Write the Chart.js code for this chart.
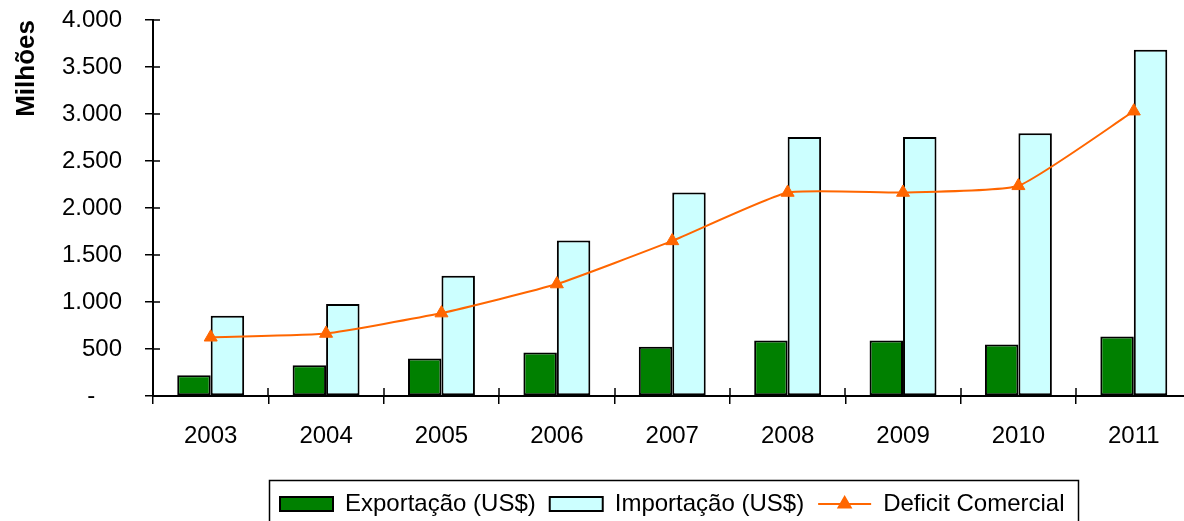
<!DOCTYPE html>
<html><head><meta charset="utf-8">
<script src="https://cdn.jsdelivr.net/npm/chart.js@4/dist/chart.umd.min.js"></script>
<style>
html,body{margin:0;padding:0;background:#fff;overflow:hidden}
#wrap{width:1184px;height:521px;overflow:hidden;position:relative;background:#fff}
#c{display:block}
</style></head><body>
<div id="wrap"><canvas id="c" width="1200" height="540"></canvas></div>
<script>
const categories = ['2003', '2004', '2005', '2006', '2007', '2008', '2009', '2010', '2011'];
const exportacao = [221, 327, 398, 462, 523, 590, 590, 547, 633];
const importacao = [853, 978, 1280, 1653, 2165, 2755, 2755, 2795, 3683];
const deficit = [625, 665, 882, 1191, 1650, 2165, 2165, 2236, 3030];
const yTickValues = [0, 500, 1000, 1500, 2000, 2500, 3000, 3500, 4000];
const seriesNames = ['Exportação (US$)', 'Importação (US$)', 'Deficit Comercial'];
const axisTitle = 'Milhões';

const FONT = "'Liberation Sans', Arial, Helvetica, sans-serif";
const LINE_COLOR = '#FF6600';

function fmt(v) {
  if (v === 0) return '-    ';
  return String(v).replace(/\B(?=(\d{3})+(?!\d))/g, '.');
}

const innerTicks = {
  id: 'innerTicks',
  afterDatasetsDraw(chart) {
    const ctx = chart.ctx, x = chart.scales.x, y = chart.scales.y, a = chart.chartArea;
    ctx.save();
    ctx.strokeStyle = '#000';
    ctx.lineWidth = 1.5;
    ctx.beginPath();
    y.ticks.forEach(t => {
      const py = Math.round(y.getPixelForValue(t.value));
      ctx.moveTo(a.left, py); ctx.lineTo(a.left + 7, py);
    });
    const n = categories.length;
    const step = x.getPixelForValue(1) - x.getPixelForValue(0);
    for (let i = 0; i <= n; i++) {
      const px = Math.round(x.getPixelForValue(0) - step / 2 + i * step);
      ctx.moveTo(px, a.bottom); ctx.lineTo(px, a.bottom - 8);
    }
    ctx.stroke();
    ctx.restore();
  },
  afterDraw(chart) {
    const ctx = chart.ctx, lg = chart.legend;
    const hb = lg.legendHitBoxes;
    if (!hb || hb.length < 3) return;
    const bw = lg.options.labels.boxWidth;
    const h = hb[2];
    const cy = h.top + h.height / 2;
    ctx.save();
    ctx.strokeStyle = LINE_COLOR;
    ctx.lineWidth = 2;
    ctx.beginPath();
    ctx.moveTo(h.left, cy); ctx.lineTo(h.left + bw, cy);
    ctx.stroke();
    ctx.fillStyle = LINE_COLOR;
    Chart.helpers.drawPoint(ctx, {pointStyle: 'triangle', radius: 7, borderWidth: 1, rotation: 0}, h.left + bw / 2, cy);
    ctx.fill();
    ctx.strokeStyle = '#000';
    ctx.lineWidth = 1.5;
    const l = hb[0].left - 11, t = cy - 24, r = h.left + h.width + 13;
    ctx.strokeRect(Math.round(l) + 0.5, Math.round(t) + 0.5, Math.round(r - l), 80);
    ctx.restore();
  }
};

new Chart(document.getElementById('c'), {
  type: 'bar',
  data: {
    labels: categories,
    datasets: [
      {
        label: seriesNames[0], data: exportacao, backgroundColor: '#008000',
        borderColor: '#000', borderWidth: 2, borderSkipped: false,
        categoryPercentage: 0.58, barPercentage: 1, order: 2
      },
      {
        label: seriesNames[1], data: importacao, backgroundColor: '#CCFFFF',
        borderColor: '#000', borderWidth: 2, borderSkipped: false,
        categoryPercentage: 0.58, barPercentage: 1, order: 2
      },
      {
        type: 'line', label: seriesNames[2], data: deficit,
        borderColor: LINE_COLOR, backgroundColor: LINE_COLOR, borderWidth: 2,
        pointStyle: 'triangle', pointRadius: 7.5, pointBackgroundColor: LINE_COLOR,
        pointBorderColor: LINE_COLOR, pointBorderWidth: 1,
        tension: 0.15, order: 1
      }
    ]
  },
  options: {
    responsive: false,
    devicePixelRatio: 1,
    animation: false,
    layout: { padding: { left: 0, top: 20, right: 3, bottom: 14 } },
    plugins: {
      tooltip: { enabled: false },
      legend: {
        position: 'bottom',
        fullSize: false,
        labels: {
          boxWidth: 53, boxHeight: 14, padding: 14, color: '#000',
          font: { family: FONT, size: 24 },
          sort: (a, b) => a.datasetIndex - b.datasetIndex,
          generateLabels(chart) {
            const items = Chart.defaults.plugins.legend.labels.generateLabels(chart);
            items.forEach(it => {
              if (it.datasetIndex === 2) {
                it.fillStyle = 'rgba(0,0,0,0)';
                it.strokeStyle = 'rgba(0,0,0,0)';
                it.lineWidth = 0;
              } else {
                it.strokeStyle = '#000';
                it.lineWidth = 2;
              }
            });
            return items;
          }
        }
      }
    },
    scales: {
      x: {
        offset: true,
        grid: { display: true, offset: true, drawOnChartArea: false, drawTicks: true, tickLength: 8, color: '#000', lineWidth: 1.5 },
        border: { display: true, color: '#000', width: 2 },
        ticks: { color: '#000', font: { family: FONT, size: 24 }, padding: 18, maxRotation: 0, autoSkip: false },
        afterFit(s) { s.height = 82; }
      },
      y: {
        min: 0, max: 4000,
        afterBuildTicks(s) { s.ticks = yTickValues.map(v => ({ value: v })); },
        grid: { display: true, drawOnChartArea: false, drawTicks: true, tickLength: 8, color: '#000', lineWidth: 1.5 },
        border: { display: true, color: '#000', width: 2 },
        ticks: { color: '#000', font: { family: FONT, size: 24 }, padding: 23, callback: v => fmt(v) },
        title: { display: true, text: axisTitle, align: 'end', color: '#000', font: { family: FONT, size: 26, weight: 'bold' }, padding: { top: 11, bottom: 0 } },
        afterFit(s) { s.width = 153; s.paddingTop = 0; s.paddingBottom = 0; }
      }
    }
  },
  plugins: [innerTicks]
});
</script>
</body></html>
